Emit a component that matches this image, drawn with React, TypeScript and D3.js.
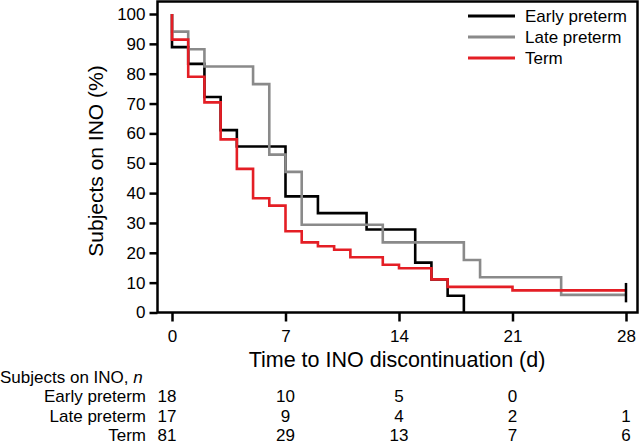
import React, { useRef, useEffect } from "react";
import * as d3 from "d3";

// Kaplan–Meier steps: time of each drop (days) and survival after it (%)
const earlyTimes = [0, 1, 2, 3, 4, 7, 9, 12, 15, 16, 17, 18];
const earlySurv = [88.9, 83.3, 72.2, 61.1, 55.6, 38.9, 33.3, 27.8, 16.7, 11.1, 5.6, 0];
const earlyEnd = 18;

const lateTimes = [0, 1, 2, 5, 6, 7, 8, 13, 18, 19, 24];
const lateSurv = [94.1, 88.2, 82.4, 76.5, 52.9, 47.1, 29.4, 23.5, 17.6, 11.8, 5.9];
const lateEnd = 28;

const termTimes = [0, 1, 2, 3, 4, 5, 6, 7, 8, 9, 10, 11, 13, 14, 16, 17, 21];
const termSurv = [91.4, 79.0, 70.4, 58.0, 48.1, 38.3, 35.8, 27.2, 23.5, 22.2, 21.0, 18.5, 16.0, 14.8, 11.1, 8.6, 7.4];
const termEnd = 28;

// censor mark at the end of follow-up
const censorDay = 28;
const censorRange = [3.4, 9.9];

const xTicks = [0, 7, 14, 21, 28];
const yTicks = [0, 10, 20, 30, 40, 50, 60, 70, 80, 90, 100];

const groupNames = ["Early preterm", "Late preterm", "Term"];
const riskEarly = [18, 10, 5, 0, null];
const riskLate = [17, 9, 4, 2, 1];
const riskTerm = [81, 29, 13, 7, 6];

const COLORS = ["#000000", "#8a8a8a", "#e41e25"];
const FONT = "'Liberation Sans', Arial, Helvetica, sans-serif";

type Pt = { t: number; s: number };

function steps(times: number[], surv: number[], end: number): Pt[] {
  const pts: Pt[] = [{ t: 0, s: 100 }];
  times.forEach((t, i) => pts.push({ t, s: surv[i] }));
  if (end > times[times.length - 1]) pts.push({ t: end, s: surv[surv.length - 1] });
  return pts;
}

const App: React.FC = () => {
  const svgRef = useRef<SVGSVGElement>(null);

  useEffect(() => {
    if (!svgRef.current) return;
    const svg = d3.select(svgRef.current);
    svg.selectAll("*").remove();

    // frame of the plot area
    const frame = { left: 157.5, right: 637.5, top: 1.5, bottom: 312.5 };

    const x = d3.scaleLinear().domain([0, 28]).range([172, 626]);
    const y = d3.scaleLinear().domain([0, 100]).range([frame.bottom, 14]);

    // y axis
    const yAxis = svg
      .append("g")
      .attr("transform", `translate(${frame.left},0)`)
      .call(d3.axisLeft(y).tickValues(yTicks).tickSize(8).tickPadding(4).tickFormat(d3.format("d")));
    yAxis.select(".domain").remove();
    yAxis.selectAll("line").attr("stroke", "#000").attr("stroke-width", 2.5);
    yAxis
      .selectAll("text")
      .style("font-family", FONT)
      .style("font-size", "17px")
      .attr("fill", "#000");

    // x axis
    const xAxis = svg
      .append("g")
      .attr("transform", `translate(0,${frame.bottom})`)
      .call(d3.axisBottom(x).tickValues(xTicks).tickSize(9).tickPadding(8).tickFormat(d3.format("d")));
    xAxis.select(".domain").remove();
    xAxis.selectAll("line").attr("stroke", "#000").attr("stroke-width", 2.5);
    xAxis
      .selectAll("text")
      .style("font-family", FONT)
      .style("font-size", "17px")
      .attr("fill", "#000");

    // box
    svg
      .append("rect")
      .attr("x", frame.left)
      .attr("y", frame.top)
      .attr("width", frame.right - frame.left)
      .attr("height", frame.bottom - frame.top)
      .attr("fill", "none")
      .attr("stroke", "#000")
      .attr("stroke-width", 2.5);

    // curves
    const line = d3
      .line<Pt>()
      .x((d) => x(d.t))
      .y((d) => y(d.s))
      .curve(d3.curveStepAfter);

    const series = [
      steps(earlyTimes, earlySurv, earlyEnd),
      steps(lateTimes, lateSurv, lateEnd),
      steps(termTimes, termSurv, termEnd),
    ];
    series.forEach((pts, i) => {
      svg
        .append("path")
        .attr("d", line(pts))
        .attr("fill", "none")
        .attr("stroke", COLORS[i])
        .attr("stroke-width", 2.6)
        .attr("stroke-linejoin", "miter")
        .attr("stroke-linecap", "butt");
    });

    // censor mark
    svg
      .append("line")
      .attr("x1", x(censorDay))
      .attr("x2", x(censorDay))
      .attr("y1", y(censorRange[0]))
      .attr("y2", y(censorRange[1]))
      .attr("stroke", "#000")
      .attr("stroke-width", 2.5);

    // legend
    const legendY = [16, 37, 58];
    groupNames.forEach((name, i) => {
      svg
        .append("line")
        .attr("x1", 468)
        .attr("x2", 515)
        .attr("y1", legendY[i])
        .attr("y2", legendY[i])
        .attr("stroke", COLORS[i])
        .attr("stroke-width", 2.8);
      svg
        .append("text")
        .attr("x", 525)
        .attr("y", legendY[i])
        .attr("dominant-baseline", "central")
        .style("font-family", FONT)
        .style("font-size", "17px")
        .text(name);
    });

    // axis titles
    svg
      .append("text")
      .attr("x", 397)
      .attr("y", 367)
      .attr("text-anchor", "middle")
      .style("font-family", FONT)
      .style("font-size", "21.5px")
      .text("Time to INO discontinuation (d)");

    svg
      .append("text")
      .attr("transform", `translate(103,161) rotate(-90)`)
      .attr("text-anchor", "middle")
      .style("font-family", FONT)
      .style("font-size", "21px")
      .text("Subjects on INO (%)");

    // number-at-risk table
    const header = svg
      .append("text")
      .attr("x", 0)
      .attr("y", 377)
      .attr("dominant-baseline", "central")
      .style("font-family", FONT)
      .style("font-size", "17px")
      .text("Subjects on INO, ");
    header.append("tspan").style("font-style", "italic").text("n");

    const rowY = [396, 416, 435];
    const risk = [riskEarly, riskLate, riskTerm];
    groupNames.forEach((name, i) => {
      svg
        .append("text")
        .attr("x", 146)
        .attr("y", rowY[i])
        .attr("text-anchor", "end")
        .attr("dominant-baseline", "central")
        .style("font-family", FONT)
        .style("font-size", "17px")
        .text(name);
      risk[i].forEach((v, j) => {
        if (v === null) return;
        svg
          .append("text")
          .attr("x", x(xTicks[j]) - (j === 0 ? 5 : 0))
          .attr("y", rowY[i])
          .attr("text-anchor", "middle")
          .attr("dominant-baseline", "central")
          .style("font-family", FONT)
          .style("font-size", "17px")
          .text(v);
      });
    });
  }, []);

  return (
    <svg
      ref={svgRef}
      width={640}
      height={444}
      viewBox="0 0 640 444"
      style={{ position: "absolute", left: 0, top: 0, background: "#fff" }}
    />
  );
};

export default App;
